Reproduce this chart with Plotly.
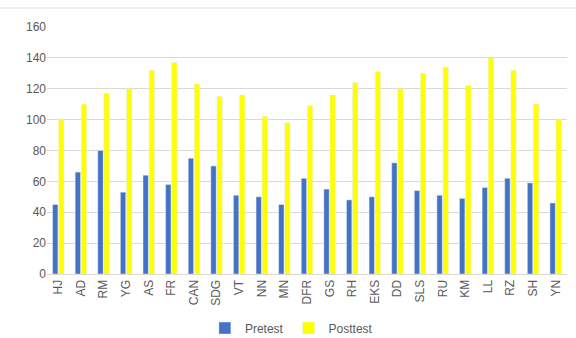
import plotly.graph_objects as go

categories = ["HJ", "AD", "RM", "YG", "AS", "FR", "CAN", "SDG", "VT", "NN", "MN", "DFR",
              "GS", "RH", "EKS", "DD", "SLS", "RU", "KM", "LL", "RZ", "SH", "YN"]
pretest = [45, 66, 80, 53, 64, 58, 75, 70, 51, 50, 45, 62, 55, 48, 50, 72, 54, 51, 49, 56, 62, 59, 46]
posttest = [100, 110, 117, 120, 132, 137, 123, 115, 116, 102, 98, 109, 116, 124, 131, 120, 130, 134, 122, 140, 132, 110, 100]
y_ticks = [0, 20, 40, 60, 80, 100, 120, 140, 160]

font_family = "Liberation Sans, Arial, sans-serif"
text_color = "#595959"

fig = go.Figure()
fig.add_trace(go.Bar(x=categories, y=pretest, name="Pretest", marker_color="#4472C4"))
fig.add_trace(go.Bar(x=categories, y=posttest, name="Posttest", marker_color="#FFFF00"))

fig.update_layout(
    width=576, height=338,
    margin=dict(l=47, r=9, t=27, b=64, autoexpand=False),
    paper_bgcolor="white", plot_bgcolor="white",
    barmode="group", bargap=0.46, bargroupgap=0.12,
    font=dict(family=font_family, size=12, color=text_color),
    showlegend=True,
    legend=dict(orientation="h", x=0.47, xanchor="center", y=-0.16, yanchor="top",
                font=dict(size=12, color=text_color), traceorder="normal"),
    shapes=[dict(type="line", xref="paper", yref="paper", x0=-0.09, x1=1.02,
                 y0=1.077, y1=1.077, line=dict(color="#e0e0e0", width=1))],
)
fig.update_xaxes(tickangle=-90, showline=True, linecolor="#d9d9d9", ticks="",
                 automargin=False,
                 tickfont=dict(size=12, color=text_color), showgrid=False)
fig.update_yaxes(range=[0, 160], tickvals=y_ticks, showgrid=True, gridcolor="#d9d9d9",
                 zeroline=False, showline=False, ticks="", automargin=False,
                 tickfont=dict(size=12, color=text_color))

fig.write_html("out.html")
